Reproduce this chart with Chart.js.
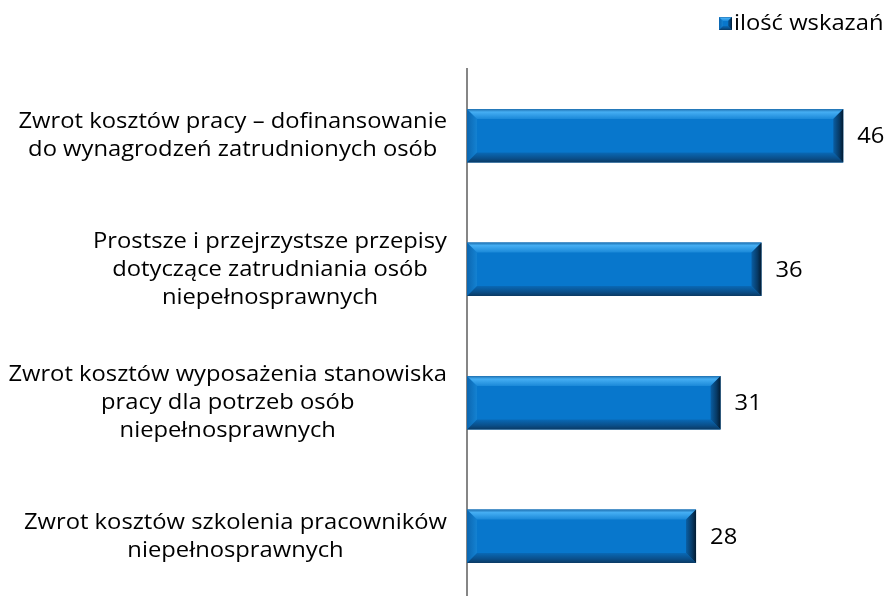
<!DOCTYPE html>
<html>
<head>
<meta charset="utf-8">
<script src="https://cdn.jsdelivr.net/npm/chart.js@4.4.0/dist/chart.umd.min.js"></script>
<style>
html, body { margin: 0; padding: 0; background: #fff; overflow: hidden; }
#wrap { width: 889px; height: 603px; }
</style>
</head>
<body>
<div id="wrap"><canvas id="chart"></canvas></div>
<script>
var categories = [
    ['Zwrot kosztów pracy – dofinansowanie', 'do wynagrodzeń zatrudnionych osób'],
    ['Prostsze i przejrzystsze przepisy', 'dotyczące zatrudniania osób', 'niepełnosprawnych'],
    ['Zwrot kosztów wyposażenia stanowiska', 'pracy dla potrzeb osób', 'niepełnosprawnych'],
    ['Zwrot kosztów szkolenia pracowników', 'niepełnosprawnych']
];
var values = [46, 36, 31, 28];
var seriesName = 'ilość wskazań';
var axisMax = 50;

var FONT = '22px "Open Sans"';
var SX = 1.08; // the source text is slightly wide
var LINE_H = 28;

function text(ctx, t, x, y) {
    ctx.save();
    ctx.translate(x, y);
    ctx.scale(SX, 1);
    ctx.fillText(t, 0, 0);
    ctx.restore();
}

// bevelled bar look, drawn over the plain bar
function bevel(ctx, x0, y0, x1, y1, b) {
    var g;
    // left
    g = ctx.createLinearGradient(x0, 0, x0 + b, 0);
    g.addColorStop(0, '#0b66b0');
    g.addColorStop(1, '#1482d2');
    ctx.fillStyle = g;
    ctx.beginPath();
    ctx.moveTo(x0, y0); ctx.lineTo(x0 + b, y0 + b); ctx.lineTo(x0 + b, y1 - b); ctx.lineTo(x0, y1);
    ctx.closePath(); ctx.fill();
    // top
    g = ctx.createLinearGradient(0, y0, 0, y0 + b);
    g.addColorStop(0, '#1f70b0');
    g.addColorStop(0.3, '#45aef3');
    g.addColorStop(1, '#1a88d8');
    ctx.fillStyle = g;
    ctx.beginPath();
    ctx.moveTo(x0, y0); ctx.lineTo(x1, y0); ctx.lineTo(x1 - b, y0 + b); ctx.lineTo(x0 + b, y0 + b);
    ctx.closePath(); ctx.fill();
    // bottom
    g = ctx.createLinearGradient(0, y1 - b, 0, y1);
    g.addColorStop(0, '#0969b6');
    g.addColorStop(0.6, '#0a4f8a');
    g.addColorStop(1, '#0a3a64');
    ctx.fillStyle = g;
    ctx.beginPath();
    ctx.moveTo(x0, y1); ctx.lineTo(x1, y1); ctx.lineTo(x1 - b, y1 - b); ctx.lineTo(x0 + b, y1 - b);
    ctx.closePath(); ctx.fill();
    // right
    g = ctx.createLinearGradient(x1 - b, 0, x1, 0);
    g.addColorStop(0, '#0a5ea3');
    g.addColorStop(0.6, '#073a66');
    g.addColorStop(1, '#021a30');
    ctx.fillStyle = g;
    ctx.beginPath();
    ctx.moveTo(x1, y0); ctx.lineTo(x1, y1); ctx.lineTo(x1 - b, y1 - b); ctx.lineTo(x1 - b, y0 + b);
    ctx.closePath(); ctx.fill();
}

var extras = {
    id: 'extras',
    afterDatasetsDraw: function(chart) {
        var ctx = chart.ctx;
        var meta = chart.getDatasetMeta(0);
        ctx.save();
        meta.data.forEach(function(bar, i) {
            var p = bar.getProps(['x', 'y', 'base', 'height'], true);
            var y0 = p.y - p.height / 2, y1 = p.y + p.height / 2;
            bevel(ctx, p.base, y0, p.x, y1, 10);
            ctx.font = FONT;
            ctx.fillStyle = '#000';
            ctx.textAlign = 'left';
            ctx.textBaseline = 'middle';
            text(ctx, String(values[i]), p.x + 14, p.y + 1);
        });
        ctx.restore();
    },
    afterDraw: function(chart) {
        var ctx = chart.ctx;
        var yScale = chart.scales.y;
        var right = chart.chartArea.left - 20;
        ctx.save();
        ctx.font = FONT;
        ctx.fillStyle = '#000';
        ctx.textAlign = 'center';
        ctx.textBaseline = 'middle';
        categories.forEach(function(lines, i) {
            var y = yScale.getPixelForTick(i);
            var w = 0;
            lines.forEach(function(t) { w = Math.max(w, ctx.measureText(t).width * SX); });
            var cx = right - w / 2;
            lines.forEach(function(t, j) {
                text(ctx, t, cx, y + (j - (lines.length - 1) / 2) * LINE_H);
            });
        });

        // legend
        var lx = 719, ly = 17;
        ctx.fillStyle = '#0877cc';
        ctx.fillRect(lx, ly, 13, 13);
        bevel(ctx, lx, ly, lx + 13, ly + 13, 4);
        ctx.fillStyle = '#000';
        ctx.textAlign = 'left';
        text(ctx, seriesName, lx + 15, ly + 7);
        ctx.restore();
    }
};

window.onload = function() {
    var ctx = document.getElementById('chart').getContext('2d');
    window.myBar = new Chart(ctx, {
        type: 'bar',
        data: {
            labels: categories,
            datasets: [{
                label: seriesName,
                data: values,
                backgroundColor: '#0877cc',
                borderWidth: 0,
                barPercentage: 0.4,
                categoryPercentage: 1
            }]
        },
        options: {
            indexAxis: 'y',
            responsive: true,
            maintainAspectRatio: false,
            animation: false,
            layout: {
                padding: { top: 69, right: 13, bottom: 0, left: 0 }
            },
            plugins: {
                legend: { display: false },
                tooltip: { enabled: false }
            },
            scales: {
                x: { display: false, min: 0, max: axisMax },
                y: {
                    grid: { display: false },
                    border: { display: true, color: '#868686', width: 2 },
                    ticks: { display: false },
                    afterFit: function(scale) { scale.width = 467; }
                }
            }
        },
        plugins: [extras]
    });
};
</script>
</body>
</html>
